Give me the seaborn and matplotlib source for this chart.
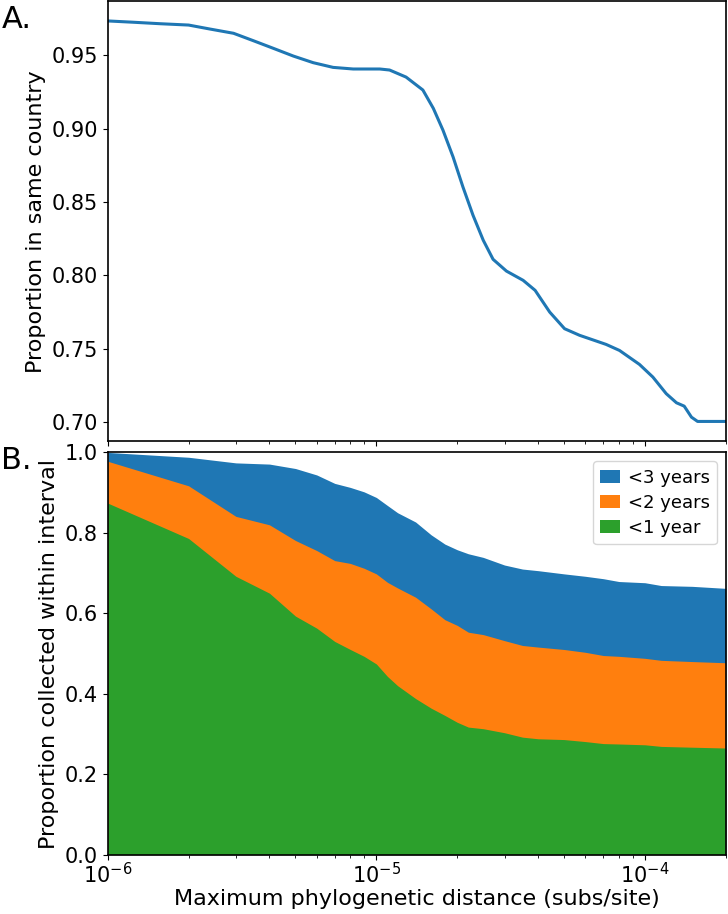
import numpy as np
import matplotlib
matplotlib.use("Agg")
import matplotlib.pyplot as plt
import seaborn as sns

# A. proportion of pairs in the same country vs max distance
dist_a = [1e-6, 1.25e-6, 1.57e-6, 2.0e-6, 2.4e-6, 2.94e-6, 3.49e-6, 4.13e-6,
          4.91e-6, 5.82e-6, 6.9e-6, 8.2e-6, 9.46e-6, 1.03e-5, 1.12e-5, 1.29e-5,
          1.49e-5, 1.63e-5, 1.77e-5, 1.93e-5, 2.10e-5, 2.29e-5, 2.50e-5,
          2.72e-5, 3.05e-5, 3.52e-5, 3.9e-5, 4.42e-5, 5.02e-5, 5.71e-5,
          7.17e-5, 8.04e-5, 9.54e-5, 1.07e-4, 1.2e-4, 1.31e-4, 1.40e-4,
          1.49e-4, 1.57e-4, 2e-4]
same_country = [0.9732, 0.9723, 0.9713, 0.9704, 0.9677, 0.9648, 0.9597, 0.9546,
                0.9493, 0.9448, 0.9416, 0.9405, 0.9405, 0.9405, 0.9398, 0.9350,
                0.9262, 0.9137, 0.8989, 0.8807, 0.8603, 0.8410, 0.8240,
                0.8110, 0.8030, 0.7967, 0.7899, 0.7751, 0.7638, 0.7593,
                0.7531, 0.7490, 0.7395, 0.7309, 0.7196, 0.7134, 0.7111,
                0.7036, 0.7007, 0.7007]

# B. cumulative proportion collected within interval
dist_b = [1e-6, 2e-6, 3e-6, 4e-6, 5e-6, 6e-6, 7e-6, 8e-6, 9e-6, 1e-5,
          1.1e-5, 1.2e-5, 1.4e-5, 1.6e-5, 1.8e-5, 2e-5, 2.2e-5, 2.5e-5,
          3e-5, 3.5e-5, 4e-5, 5e-5, 6e-5, 7e-5, 8e-5, 1e-4, 1.15e-4, 1.5e-4, 2e-4]
lt3 = [1.0, 0.988, 0.974, 0.971, 0.960, 0.944, 0.923, 0.913, 0.902, 0.888,
       0.868, 0.850, 0.827, 0.795, 0.772, 0.758, 0.748, 0.739,
       0.720, 0.710, 0.706, 0.698, 0.692, 0.686, 0.679, 0.676, 0.669, 0.667, 0.662]
lt2 = [0.978, 0.917, 0.841, 0.820, 0.781, 0.756, 0.731, 0.724, 0.712, 0.698,
       0.677, 0.663, 0.640, 0.611, 0.584, 0.570, 0.553, 0.547,
       0.532, 0.520, 0.516, 0.510, 0.503, 0.495, 0.493, 0.488, 0.483, 0.480, 0.477]
lt1 = [0.874, 0.786, 0.692, 0.650, 0.593, 0.563, 0.530, 0.510, 0.493, 0.474,
       0.443, 0.420, 0.388, 0.364, 0.346, 0.329, 0.317, 0.313,
       0.303, 0.292, 0.288, 0.286, 0.281, 0.276, 0.275, 0.273, 0.269, 0.267, 0.265]
labels = ['<3 years', '<2 years', '<1 year']

sns.set_style("ticks", {"axes.edgecolor": "black", "xtick.color": "black",
                        "ytick.color": "black", "text.color": "black",
                        "axes.labelcolor": "black"})
plt.rcParams['font.family'] = ['DejaVu Sans']
pal = sns.color_palette("tab10")

fig = plt.figure(figsize=(7.28, 9.14), dpi=100)
ax_a = fig.add_axes([0.148, 0.517, 0.849, 0.482])
ax_b = fig.add_axes([0.148, 0.065, 0.849, 0.44], sharex=ax_a)

# 패널 A
sns.lineplot(x=dist_a, y=same_country, ax=ax_a, color=pal[0], lw=2.2)
ax_a.set_xscale('log')
ax_a.set_xlim(1e-6, 2e-4)
ax_a.set_yticks([0.70, 0.75, 0.80, 0.85, 0.90, 0.95])
ax_a.set_yticklabels(['%.2f' % v for v in [0.70, 0.75, 0.80, 0.85, 0.90, 0.95]])
ax_a.set_ylabel('Proportion in same country', fontsize=16)
ax_a.tick_params(labelsize=15, labelbottom=False)

# 패널 B : 누적 영역
for vals, lab, c in zip([lt3, lt2, lt1], labels, [pal[0], pal[1], pal[2]]):
    ax_b.fill_between(dist_b, 0, vals, color=c, lw=0, label=lab)
ax_b.set_ylim(0, 1)
ax_b.set_xlim(1e-6, 2e-4)
ax_b.set_ylabel('Proportion collected within interval', fontsize=16)
ax_b.set_xlabel('Maximum phylogenetic distance (subs/site)', fontsize=16, labelpad=1)
ax_b.tick_params(labelsize=15)
ax_b.tick_params(axis='x', pad=2)
ax_b.legend(loc='upper right', fontsize=13, frameon=True,
            handlelength=1.1, handletextpad=0.4, labelspacing=0.4)

for ax in (ax_a, ax_b):
    for s in ax.spines.values():
        s.set_linewidth(1.2)

fig.text(0.002, 0.995, 'A.', fontsize=22, va='top', ha='left')
fig.text(0.002, 0.512, 'B.', fontsize=22, va='top', ha='left')

fig.savefig('out.png', dpi=100)
